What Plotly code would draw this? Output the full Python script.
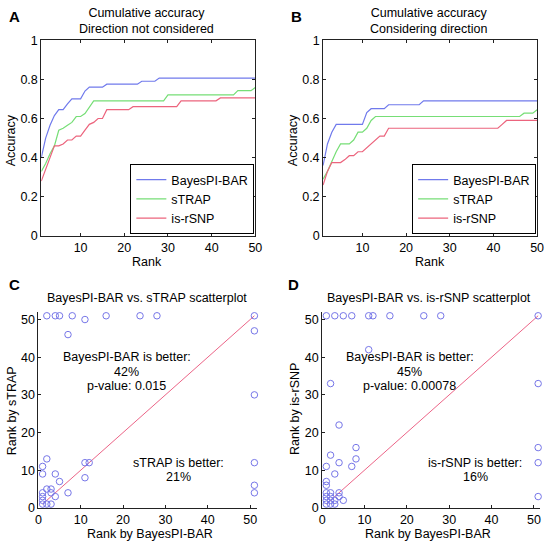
import plotly.graph_objects as go

W, H = 551, 548

rank = list(range(1, 51))

# Panel A: cumulative accuracy, direction not considered
A_bayes = [0.40, 0.50, 0.565, 0.615, 0.645, 0.645, 0.675, 0.70, 0.70, 0.70,
           0.74, 0.76, 0.76, 0.76, 0.76] + [0.775] * 8 + [0.79] * 4 + [0.806] * 23
A_strap = [0.33, 0.37, 0.42, 0.46, 0.54, 0.55, 0.565, 0.58, 0.61, 0.61,
           0.625, 0.66] + [0.69] * 17 + [0.72] * 16 + [0.742] * 4 + [0.758]
A_isrsnp = [0.28, 0.34, 0.40, 0.46, 0.46, 0.47, 0.49, 0.49, 0.51, 0.51,
            0.54, 0.57, 0.58, 0.60, 0.60] + [0.645] * 6 + [0.66] * 11 + [0.69] * 9 + [0.705] * 9

# Panel B: cumulative accuracy, considering direction
B_bayes = [0.36, 0.47, 0.53] + [0.57] * 7 + [0.63] + [0.65] * 4 + [0.67] * 8 + [0.69] * 27
B_strap = [0.29, 0.33, 0.38, 0.43, 0.47, 0.47, 0.47, 0.49, 0.53, 0.53,
           0.55, 0.59] + [0.61] * 34 + [0.627] * 3 + [0.645]
B_isrsnp = [0.26, 0.33, 0.375, 0.375, 0.375, 0.39, 0.41, 0.41, 0.43, 0.43,
            0.45, 0.47, 0.49, 0.51, 0.51] + [0.55] * 26 + [0.57] + [0.59] * 8

# Panel C: BayesPI-BAR vs sTRAP ranks
C_x = [2, 4, 5, 8, 16, 24, 28, 51, 11, 7,
       51, 51, 51, 51, 51,
       11, 12, 11, 7,
       2, 1, 1, 4, 5, 2, 3, 3, 1, 1, 4, 1, 1, 2, 3]
C_y = [51, 51, 51, 51, 51, 51, 51, 51, 50, 46,
       47, 30, 12, 6, 4,
       12, 12, 8, 4,
       13, 11, 9, 9, 7, 5, 5, 4, 4, 3, 3, 2, 1, 1, 1]

# Panel D: BayesPI-BAR vs is-rSNP ranks
D_x = [1, 3, 5, 7, 11, 12, 16, 24, 28, 51,
       11, 2, 4,
       51, 51, 51, 51,
       8, 8, 7, 4, 2, 1, 3, 1, 1, 4, 5,
       1, 2, 1, 2, 4, 1, 2, 3, 1, 2, 3]
D_y = [51, 51, 51, 51, 51, 51, 51, 51, 51, 51,
       42, 33, 22,
       33, 16, 12, 3,
       16, 13, 11, 12, 14, 11, 9, 7, 6, 4, 2,
       4, 4, 3, 3, 3, 2, 2, 2, 1, 1, 1]

diag = [1, 51]

acc_ticks = [0, 0.2, 0.4, 0.6, 0.8, 1]
acc_ticktext = ["0", "0.2", "0.4", "0.6", "0.8", "1"]
rank_ticks = [10, 20, 30, 40, 50]
scatter_ticks = [0, 10, 20, 30, 40, 50]

names = ["BayesPI-BAR", "sTRAP", "is-rSNP"]
colors = ["rgb(112,122,236)", "rgb(118,222,118)", "rgb(236,100,125)"]
pt_color = "rgb(118,118,232)"
diag_color = "rgb(236,100,135)"

FONT = "Liberation Sans, Arial, Helvetica, sans-serif"
FS = 12.5

fig = go.Figure()

for vals, nm, col in zip([A_bayes, A_strap, A_isrsnp], names, colors):
    fig.add_trace(go.Scatter(x=rank, y=vals, mode="lines", name=nm,
                             line=dict(color=col, width=1.2),
                             xaxis="x", yaxis="y", legend="legend"))
for vals, nm, col in zip([B_bayes, B_strap, B_isrsnp], names, colors):
    fig.add_trace(go.Scatter(x=rank, y=vals, mode="lines", name=nm,
                             line=dict(color=col, width=1.2),
                             xaxis="x2", yaxis="y2", legend="legend2"))

for xs, ys, ax, ay in [(C_x, C_y, "x3", "y3"), (D_x, D_y, "x4", "y4")]:
    fig.add_trace(go.Scatter(x=diag, y=diag, mode="lines", showlegend=False,
                             line=dict(color=diag_color, width=1),
                             xaxis=ax, yaxis=ay))
    fig.add_trace(go.Scatter(x=xs, y=ys, mode="markers", showlegend=False,
                             marker=dict(symbol="circle-open", size=6.5,
                                         color=pt_color, line=dict(width=1, color=pt_color)),
                             cliponaxis=False, xaxis=ax, yaxis=ay))


def px_dom(a, b):
    return [a / W, b / W]


def py_dom(top, bottom):
    return [1 - bottom / H, 1 - top / H]


common = dict(showgrid=False, zeroline=False, showline=True, linecolor="#222",
              linewidth=1, ticks="inside", ticklen=3, tickcolor="#222",
              tickfont=dict(size=FS, color="black", family=FONT))

box = dict(mirror="ticks")

fig.update_layout(
    width=W, height=H,
    margin=dict(l=0, r=0, t=0, b=0),
    paper_bgcolor="white", plot_bgcolor="white",
    font=dict(family=FONT, size=FS, color="black"),
    xaxis=dict(domain=px_dom(39, 257), range=[1, 50], tickvals=rank_ticks,
               anchor="y", **common, **box),
    yaxis=dict(domain=py_dom(34, 235), range=[0, 1], tickvals=acc_ticks,
               ticktext=acc_ticktext, anchor="x", **common, **box),
    xaxis2=dict(domain=px_dom(326, 544), range=[1, 50], tickvals=rank_ticks,
                anchor="y2", **common, **box),
    yaxis2=dict(domain=py_dom(34, 235), range=[0, 1], tickvals=acc_ticks,
                ticktext=acc_ticktext, anchor="x2", **common, **box),
    xaxis3=dict(domain=px_dom(36, 258.2), range=[0, 51.5], tickvals=scatter_ticks,
                anchor="y3", **common),
    yaxis3=dict(domain=py_dom(313, 514), range=[0, 52], tickvals=scatter_ticks,
                anchor="x3", **common),
    xaxis4=dict(domain=px_dom(325, 547.2), range=[0, 51.5], tickvals=scatter_ticks,
                anchor="y4", **common),
    yaxis4=dict(domain=py_dom(313, 514), range=[0, 52], tickvals=scatter_ticks,
                anchor="x4", **common),
    legend=dict(x=256 / W, y=1 - 233 / H, xanchor="right", yanchor="bottom",
                bordercolor="black", borderwidth=1, bgcolor="white",
                font=dict(size=FS, family=FONT), tracegroupgap=0),
    legend2=dict(x=543 / W, y=1 - 233 / H, xanchor="right", yanchor="bottom",
                 bordercolor="black", borderwidth=1, bgcolor="white",
                 font=dict(size=FS, family=FONT), tracegroupgap=0),
)

ann = []


def paper_text(text, xpx, ypx, size=FS, bold=False, angle=0, xanchor="center"):
    ann.append(dict(text=("<b>%s</b>" % text) if bold else text,
                    x=xpx / W, y=1 - ypx / H, xref="paper", yref="paper",
                    xanchor=xanchor, yanchor="middle", showarrow=False,
                    textangle=angle, font=dict(size=size, family=FONT, color="black")))


# panel letters
paper_text("A", 4, 10, size=15, bold=True, xanchor="left")
paper_text("B", 291, 10, size=15, bold=True, xanchor="left")
paper_text("C", 4, 285, size=15, bold=True, xanchor="left")
paper_text("D", 288, 285, size=15, bold=True, xanchor="left")

# titles
paper_text("Cumulative accuracy<br>Direction not considered", 146, 14)
paper_text("Cumulative accuracy<br>Considering direction", 433, 14)
paper_text("BayesPI-BAR vs. sTRAP scatterplot", 147, 299)
paper_text("BayesPI-BAR vs. is-rSNP scatterplot", 434, 299)

# axis titles
paper_text("Rank", 147, 262)
paper_text("Rank", 435, 262)
paper_text("Accuracy", 8, 137, angle=-90)
paper_text("Accuracy", 295, 137, angle=-90)
paper_text("Rank by BayesPI-BAR", 150, 541)
paper_text("Rank by BayesPI-BAR", 433, 541)
paper_text("Rank by sTRAP", 10, 414, angle=-90)
paper_text("Rank by is-rSNP", 298, 413, angle=-90)

# in-plot texts
C_texts = [("BayesPI-BAR is better:", 20.9, 40), ("42%", 20.9, 36.2), ("p-value: 0.015", 20.9, 32.3),
           ("sTRAP is better:", 33.2, 12), ("21%", 33.2, 8.1)]
D_texts = [("BayesPI-BAR is better:", 20.7, 40), ("45%", 20.7, 36.2), ("p-value: 0.00078", 20.7, 32.3),
           ("is-rSNP is better:", 36.1, 12), ("16%", 36.1, 8.1)]
for texts, ax, ay in [(C_texts, "x3", "y3"), (D_texts, "x4", "y4")]:
    for t, xv, yv in texts:
        ann.append(dict(text=t, x=xv, y=yv, xref=ax, yref=ay, showarrow=False,
                        xanchor="center", yanchor="middle",
                        font=dict(size=FS, family=FONT, color="black")))

fig.update_layout(annotations=ann)

# remove the browser's default body margin so the figure fills the window
fig.write_html("out.html", config={"displayModeBar": False},
               post_script="document.body.style.margin='0';")
